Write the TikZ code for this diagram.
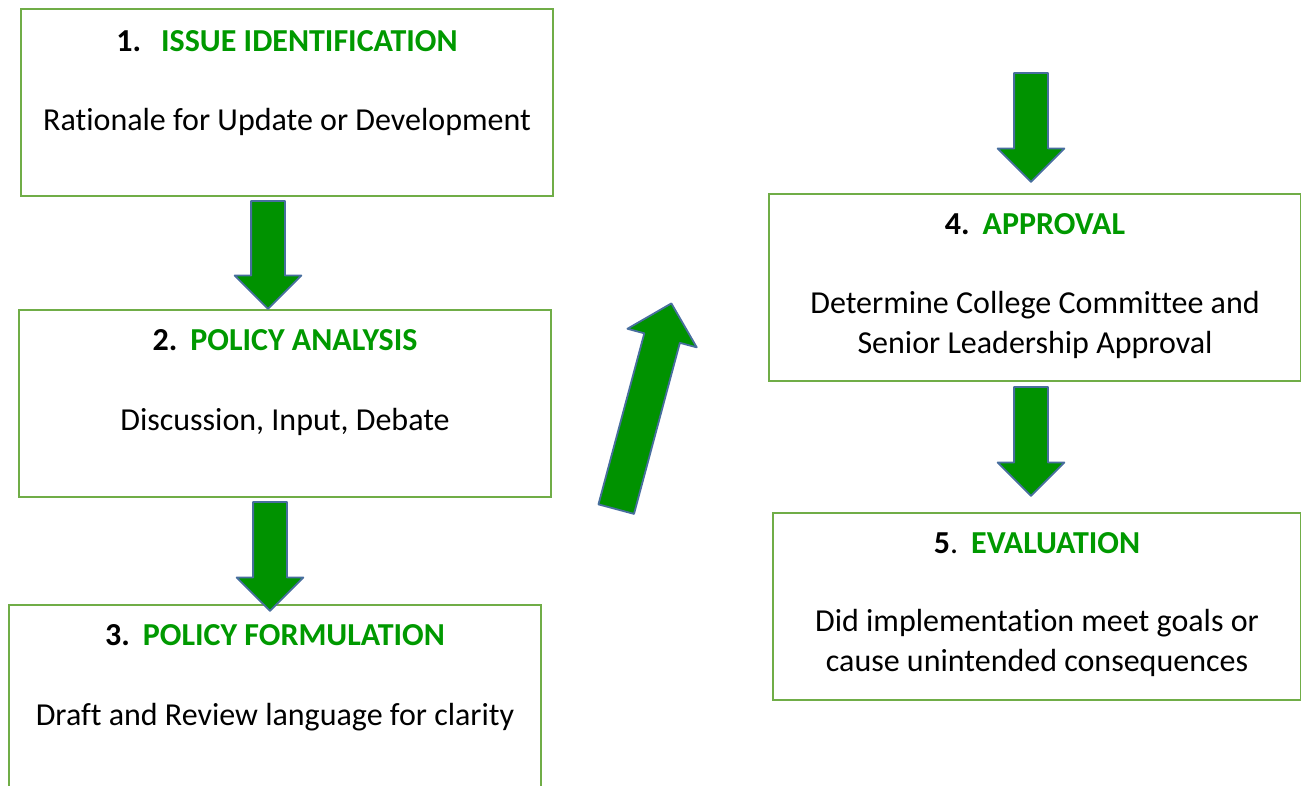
\documentclass[tikz,border=0pt]{standalone}
\usepackage{fontspec}
\setmainfont{Carlito}[Ligatures={NoCommon}]
\usetikzlibrary{shapes.arrows}
\definecolor{boxgreen}{RGB}{112,173,71}
\definecolor{titlegreen}{RGB}{0,153,0}
\definecolor{arrowgreen}{RGB}{0,146,0}
\definecolor{arrowblue}{RGB}{72,110,158}

\begin{document}
\begin{tikzpicture}[x=1pt,y=-1pt]
\tikzstyle{every node}=[font=\fontsize{32}{40}\selectfont]
\tikzstyle{stagebox}=[draw=boxgreen, line width=2pt, inner sep=0pt, minimum width=532pt, minimum height=187pt, anchor=north west]
\tikzstyle{stagetitle}=[anchor=base, inner sep=0pt]
\tikzstyle{stagetext}=[anchor=base, inner sep=0pt, align=center]
\tikzstyle{blockarrow}=[single arrow, draw=arrowblue, fill=arrowgreen, line width=1.8pt, inner xsep=0pt, inner ysep=16pt, single arrow head extend=16.5pt, line join=round, anchor=tail]

% page frame
\useasboundingbox (0,0) rectangle (1301,785);
\clip (0,0) rectangle (1301,785);

% stage boxes
\node[stagebox] (issue) at (20,8) {};
\node[stagebox] (analysis) at (18,309) {};
\node[stagebox, minimum height=200pt] (formulation) at (8,604) {};
\node[stagebox] (approval) at (768,193) {};
\node[stagebox, minimum width=528pt] (evaluation) at (772,512) {};

% block arrows
\node[blockarrow, rotate=-90, minimum height=108pt] (down1) at (268,200) {};
\node[blockarrow, rotate=-90, minimum height=109pt] (down2) at (270,501) {};
\node[blockarrow, rotate=-90, minimum height=109pt] (down3) at (1031,72) {};
\node[blockarrow, rotate=-90, minimum height=109pt] (down4) at (1031,386) {};
\node[blockarrow, rotate=75, minimum height=213pt, inner ysep=17.5pt, single arrow head extend=17.5pt] (rise) at (616,510) {};

% titles
\node[stagetitle] (issue-t) at ([yshift=-43pt]issue.north) {\textbf{1.}\hspace{20pt}\textbf{\color{titlegreen}ISSUE IDENTIFICATION}};
\node[stagetitle] (analysis-t) at ([yshift=-41pt]analysis.north) {\textbf{2.}\hspace{13pt}\textbf{\color{titlegreen}POLICY ANALYSIS}};
\node[stagetitle] (formulation-t) at ([yshift=-41pt]formulation.north) {\textbf{3.}\hspace{13pt}\textbf{\color{titlegreen}POLICY FORMULATION}};
\node[stagetitle] (approval-t) at ([yshift=-41pt]approval.north) {\textbf{4.}\hspace{13pt}\textbf{\color{titlegreen}APPROVAL}};
\node[stagetitle] (evaluation-t) at ([yshift=-41pt]evaluation.north) {\textbf{5}.\hspace{13pt}\textbf{\color{titlegreen}EVALUATION}};

% descriptions
\node[stagetext] (issue-d) at ([yshift=-122pt]issue.north) {Rationale for Update or Development};
\node[stagetext] (analysis-d) at ([yshift=-121pt]analysis.north) {Discussion, Input, Debate};
\node[stagetext] (formulation-d) at ([yshift=-121pt]formulation.north) {Draft and Review language for clarity};
\node[stagetext] (approval-d) at ([yshift=-160pt]approval.north) {Determine College Committee and\\Senior Leadership Approval};
\node[stagetext] (evaluation-d) at ([yshift=-159pt]evaluation.north) {Did implementation meet goals or\\cause unintended consequences};

\end{tikzpicture}
\end{document}
